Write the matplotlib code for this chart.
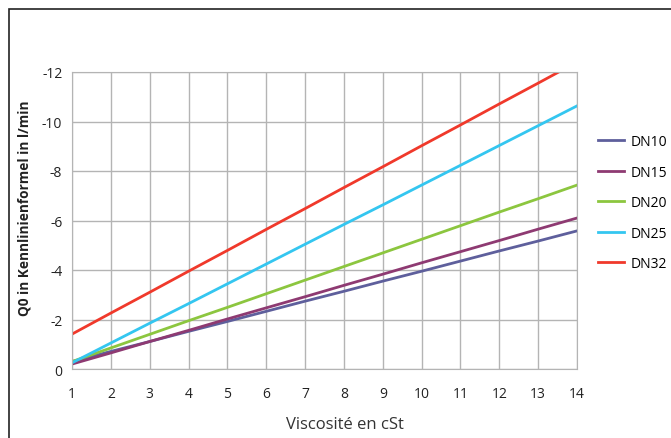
import matplotlib.pyplot as plt
import matplotlib.patches as patches

# data
viscosity = [1, 2, 3, 4, 5, 6, 7, 8, 9, 10, 11, 12, 13, 14]
dn10 = [-0.30, -0.71, -1.11, -1.52, -1.92, -2.33, -2.74, -3.14, -3.55, -3.95, -4.36, -4.77, -5.17, -5.58]
dn15 = [-0.20, -0.65, -1.11, -1.56, -2.02, -2.47, -2.92, -3.38, -3.83, -4.29, -4.74, -5.19, -5.65, -6.10]
dn20 = [-0.30, -0.85, -1.40, -1.95, -2.49, -3.04, -3.59, -4.14, -4.69, -5.24, -5.79, -6.34, -6.88, -7.43]
dn25 = [-0.25, -1.05, -1.85, -2.64, -3.44, -4.24, -5.04, -5.84, -6.63, -7.43, -8.23, -9.03, -9.83, -10.63]
dn32 = [-1.41, -2.26, -3.10, -3.95, -4.79, -5.64, -6.48, -7.33, -8.17, -9.02, -9.86, -10.71, -11.55, -12.40]
series_names = ["DN10", "DN15", "DN20", "DN25", "DN32"]
y_ticks = [0, -2, -4, -6, -8, -10, -12]

colors = ["#5e5f9c", "#8e3a72", "#8cc63f", "#34c6f0", "#f0392b"]

plt.rcParams['font.family'] = ['Open Sans', 'DejaVu Sans']

fig = plt.figure(figsize=(6.71, 4.39), dpi=100)
ax = fig.add_axes([72/671, 1 - 370/439, 505/671, 297/439])

# outer frame (cut off at right and bottom like the source)
fig.patches.append(patches.Rectangle((8.5/671, -0.1), 1.2, 1.1 - 9.5/439,
                                     transform=fig.transFigure, fill=False,
                                     edgecolor="#222222", linewidth=1.2))

for vals, name, c in zip([dn10, dn15, dn20, dn25, dn32], series_names, colors):
    ax.plot(viscosity, vals, color=c, linewidth=2, label=name)

ax.set_xlim(1, 14)
ax.set_ylim(0, -12)
ax.set_xticks(viscosity)
ax.set_yticks(y_ticks)
ax.set_yticklabels([str(t) for t in y_ticks])
ax.grid(True, color="#b4b4b4", linewidth=1)
ax.set_axisbelow(True)
for s in ax.spines.values():
    s.set_color("#b4b4b4")
ax.tick_params(length=0, labelsize=10, colors="#222222")
ax.tick_params(axis='y', pad=7)
ax.tick_params(axis='x', pad=12)

fig.text(345/671, 1 - 425/439, "Viscosité en cSt", fontsize=12, color="#333333",
         ha='center', va='center')
fig.text(25/671, 1 - 208/439, "Q0 in Kennlinienformel in l/min", fontsize=9.8,
         fontweight='bold', color="#222222", rotation=90, ha='center', va='center')

ax.legend(loc="upper left", bbox_to_anchor=(1.03, 0.81), frameon=False,
          fontsize=10, handlelength=1.9, labelspacing=1.12, handletextpad=0.45,
          borderaxespad=0)

fig.savefig("out.png", dpi=100)
